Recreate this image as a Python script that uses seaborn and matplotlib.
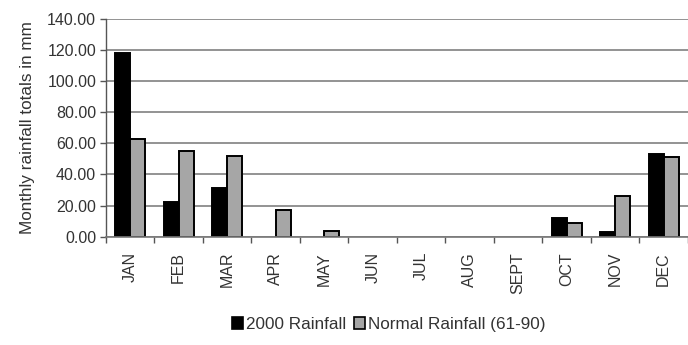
import matplotlib
matplotlib.use("Agg")
import matplotlib.pyplot as plt
import matplotlib.ticker as mticker
from matplotlib.patches import Patch
import numpy as np
import pandas as pd
import seaborn as sns

months = ["JAN", "FEB", "MAR", "APR", "MAY", "JUN", "JUL", "AUG", "SEPT", "OCT", "NOV", "DEC"]
rain_2000 = [118.0, 22.0, 31.0, 0.0, 0.0, 0.0, 0.0, 0.0, 0.0, 12.0, 3.0, 53.0]
rain_normal = [63.0, 55.0, 52.0, 17.0, 3.5, 0.0, 0.0, 0.0, 0.0, 9.0, 26.0, 51.5]
series_names = ["2000 Rainfall", "Normal Rainfall (61-90)"]
y_ticks = [0, 20, 40, 60, 80, 100, 120, 140]

df = pd.DataFrame({
    "month": months * 2,
    "rain": rain_2000 + rain_normal,
    "series": [series_names[0]] * len(months) + [series_names[1]] * len(months),
})

sns.set_theme(style="white")
plt.rcParams["font.family"] = ["Liberation Sans", "DejaVu Sans"]
plt.rcParams["font.size"] = 11

fig = plt.figure(figsize=(6.88, 3.45), dpi=100)
ax = fig.add_axes([0.154, 0.314, 0.846, 0.631])

colors = ["#000000", "#a6a6a6"]
sns.barplot(data=df, x="month", y="rain", hue="series", order=months,
            hue_order=series_names, palette=colors, width=0.62,
            edgecolor="black", linewidth=1.4, saturation=1, ax=ax,
            legend=False)

# empty months get no outline along the baseline
for bar in ax.patches:
    if bar.get_height() == 0:
        bar.set_linewidth(0)

ax.set_ylim(0, 140)
ax.set_xlim(-0.5, len(months) - 0.5)
ax.set_yticks(y_ticks)
ax.yaxis.set_major_formatter(mticker.FormatStrFormatter("%.2f"))
ax.yaxis.grid(True, color="#808080", linewidth=1.2)
ax.set_axisbelow(True)

for side in ["top", "right"]:
    ax.spines[side].set_visible(False)
ax.spines["left"].set_color("#555555")
ax.spines["bottom"].set_color("#777777")
ax.spines["left"].set_linewidth(1.0)
ax.spines["bottom"].set_linewidth(1.2)

ax.set_xlabel("")
ax.set_ylabel("Monthly rainfall totals in mm", fontsize=12.3, color="#333333", labelpad=9)
ax.tick_params(axis="y", which="major", direction="out", length=4, width=1,
               color="#555555", labelsize=11.5, labelcolor="#333333", left=True, pad=3)
ax.set_xticks(range(len(months)))
ax.set_xticklabels(months, rotation=90)
ax.tick_params(axis="x", which="major", length=0, labelsize=11.5, labelcolor="#333333", pad=11)
ax.set_xticks(np.arange(-0.5, len(months), 1.0), minor=True)
ax.tick_params(axis="x", which="minor", direction="out", length=4, width=1,
               color="#555555", bottom=True)

handles = [Patch(facecolor=c, edgecolor="black", linewidth=1.2) for c in colors]
fig.legend(handles, series_names, loc="center", bbox_to_anchor=(0.565, 0.06),
           ncol=2, frameon=False, fontsize=12.3, handlelength=0.65, handleheight=0.65,
           handletextpad=0.15, columnspacing=0.5, labelcolor="#333333")

fig.savefig("out.png", dpi=100)
